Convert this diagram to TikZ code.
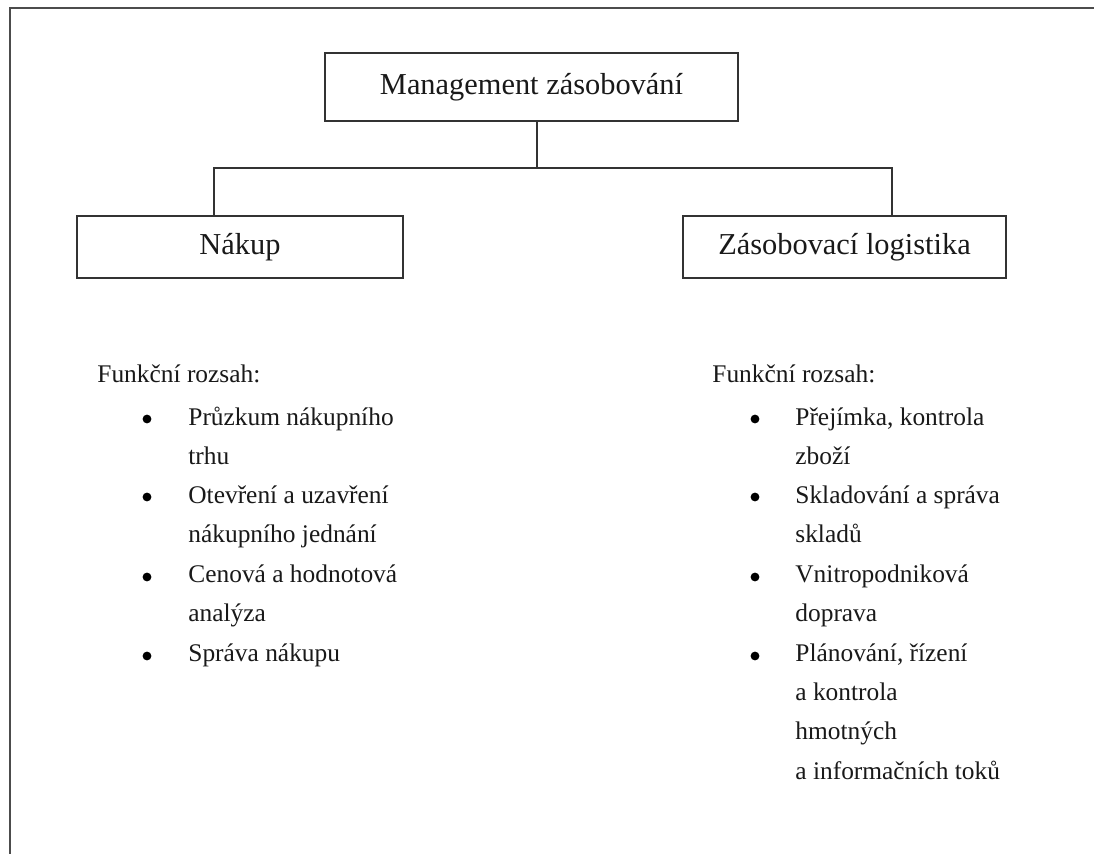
\documentclass[tikz,border=0pt]{standalone}
\usepackage{fontspec}
\setmainfont{Liberation Serif}
\tikzset{
  frameline/.style={draw=black!70, line width=1.3pt},
  conn/.style={draw=black!80, line width=1pt},
  boxnode/.style={draw=black!80, line width=1pt, fill=white, inner sep=0pt, align=center,
    font=\fontsize{15.2}{18}\selectfont, text=black!90},
  listtext/.style={anchor=base west, inner sep=0pt, font=\fontsize{12.7}{15}\selectfont, text=black!90},
  bulletdot/.style={circle, fill=black, inner sep=0pt, minimum size=4.4pt}
}
\begin{document}
\begin{tikzpicture}[x=0.5pt, y=-0.5pt]
\useasboundingbox (0,0) rectangle (1094,854);
\fill[white] (0,0) rectangle (1094,854);
% outer frame (top and left edges)
\draw[frameline] (1094,8) -- (10,8) -- (10,854);

% boxes
\node[boxnode, minimum width=206.5pt, minimum height=34pt] (top) at (531.5,87) {Management zásobování};
\node[boxnode, minimum width=163pt, minimum height=31pt] (left) at (240,247) {Nákup};
\node[boxnode, minimum width=161.5pt, minimum height=31pt] (right) at (844.5,247) {Zásobovací logistika};

% connectors
\coordinate (j) at (537,168);
\coordinate (jl) at (214,168);
\coordinate (jr) at (892,168);
\draw[conn] (top.south -| j) -- (j);
\draw[conn] (jl |- left.north) -- (jl) -- (jr) -- (jr |- right.north);

% left list
\node[listtext] (lh) at (97,383) {Funkční rozsah:};
\node[bulletdot] (lb1) at (147,419) {};
\node[listtext] (l1a) at (188,426) {Průzkum nákupního};
\node[listtext] (l1b) at (188,465) {trhu};
\node[bulletdot] (lb2) at (147,497) {};
\node[listtext] (l2a) at (188,504) {Otevření a uzavření};
\node[listtext] (l2b) at (188,543) {nákupního jednání};
\node[bulletdot] (lb3) at (147,577) {};
\node[listtext] (l3a) at (188,583) {Cenová a hodnotová};
\node[listtext] (l3b) at (188,622) {analýza};
\node[bulletdot] (lb4) at (147,656) {};
\node[listtext] (l4a) at (188,662) {Správa nákupu};

% right list
\node[listtext] (rh) at (712,383) {Funkční rozsah:};
\node[bulletdot] (rb1) at (755,419) {};
\node[listtext] (r1a) at (795,426) {Přejímka, kontrola};
\node[listtext] (r1b) at (795,465) {zboží};
\node[bulletdot] (rb2) at (755,497) {};
\node[listtext] (r2a) at (795,504) {Skladování a správa};
\node[listtext] (r2b) at (795,543) {skladů};
\node[bulletdot] (rb3) at (755,577) {};
\node[listtext] (r3a) at (795,583) {Vnitropodniková};
\node[listtext] (r3b) at (795,622) {doprava};
\node[bulletdot] (rb4) at (755,656) {};
\node[listtext] (r4a) at (795,662) {Plánování, řízení};
\node[listtext] (r4b) at (795,701) {a kontrola};
\node[listtext] (r4c) at (795,740) {hmotných};
\node[listtext] (r4d) at (795,780) {a informačních toků};
\end{tikzpicture}
\end{document}
